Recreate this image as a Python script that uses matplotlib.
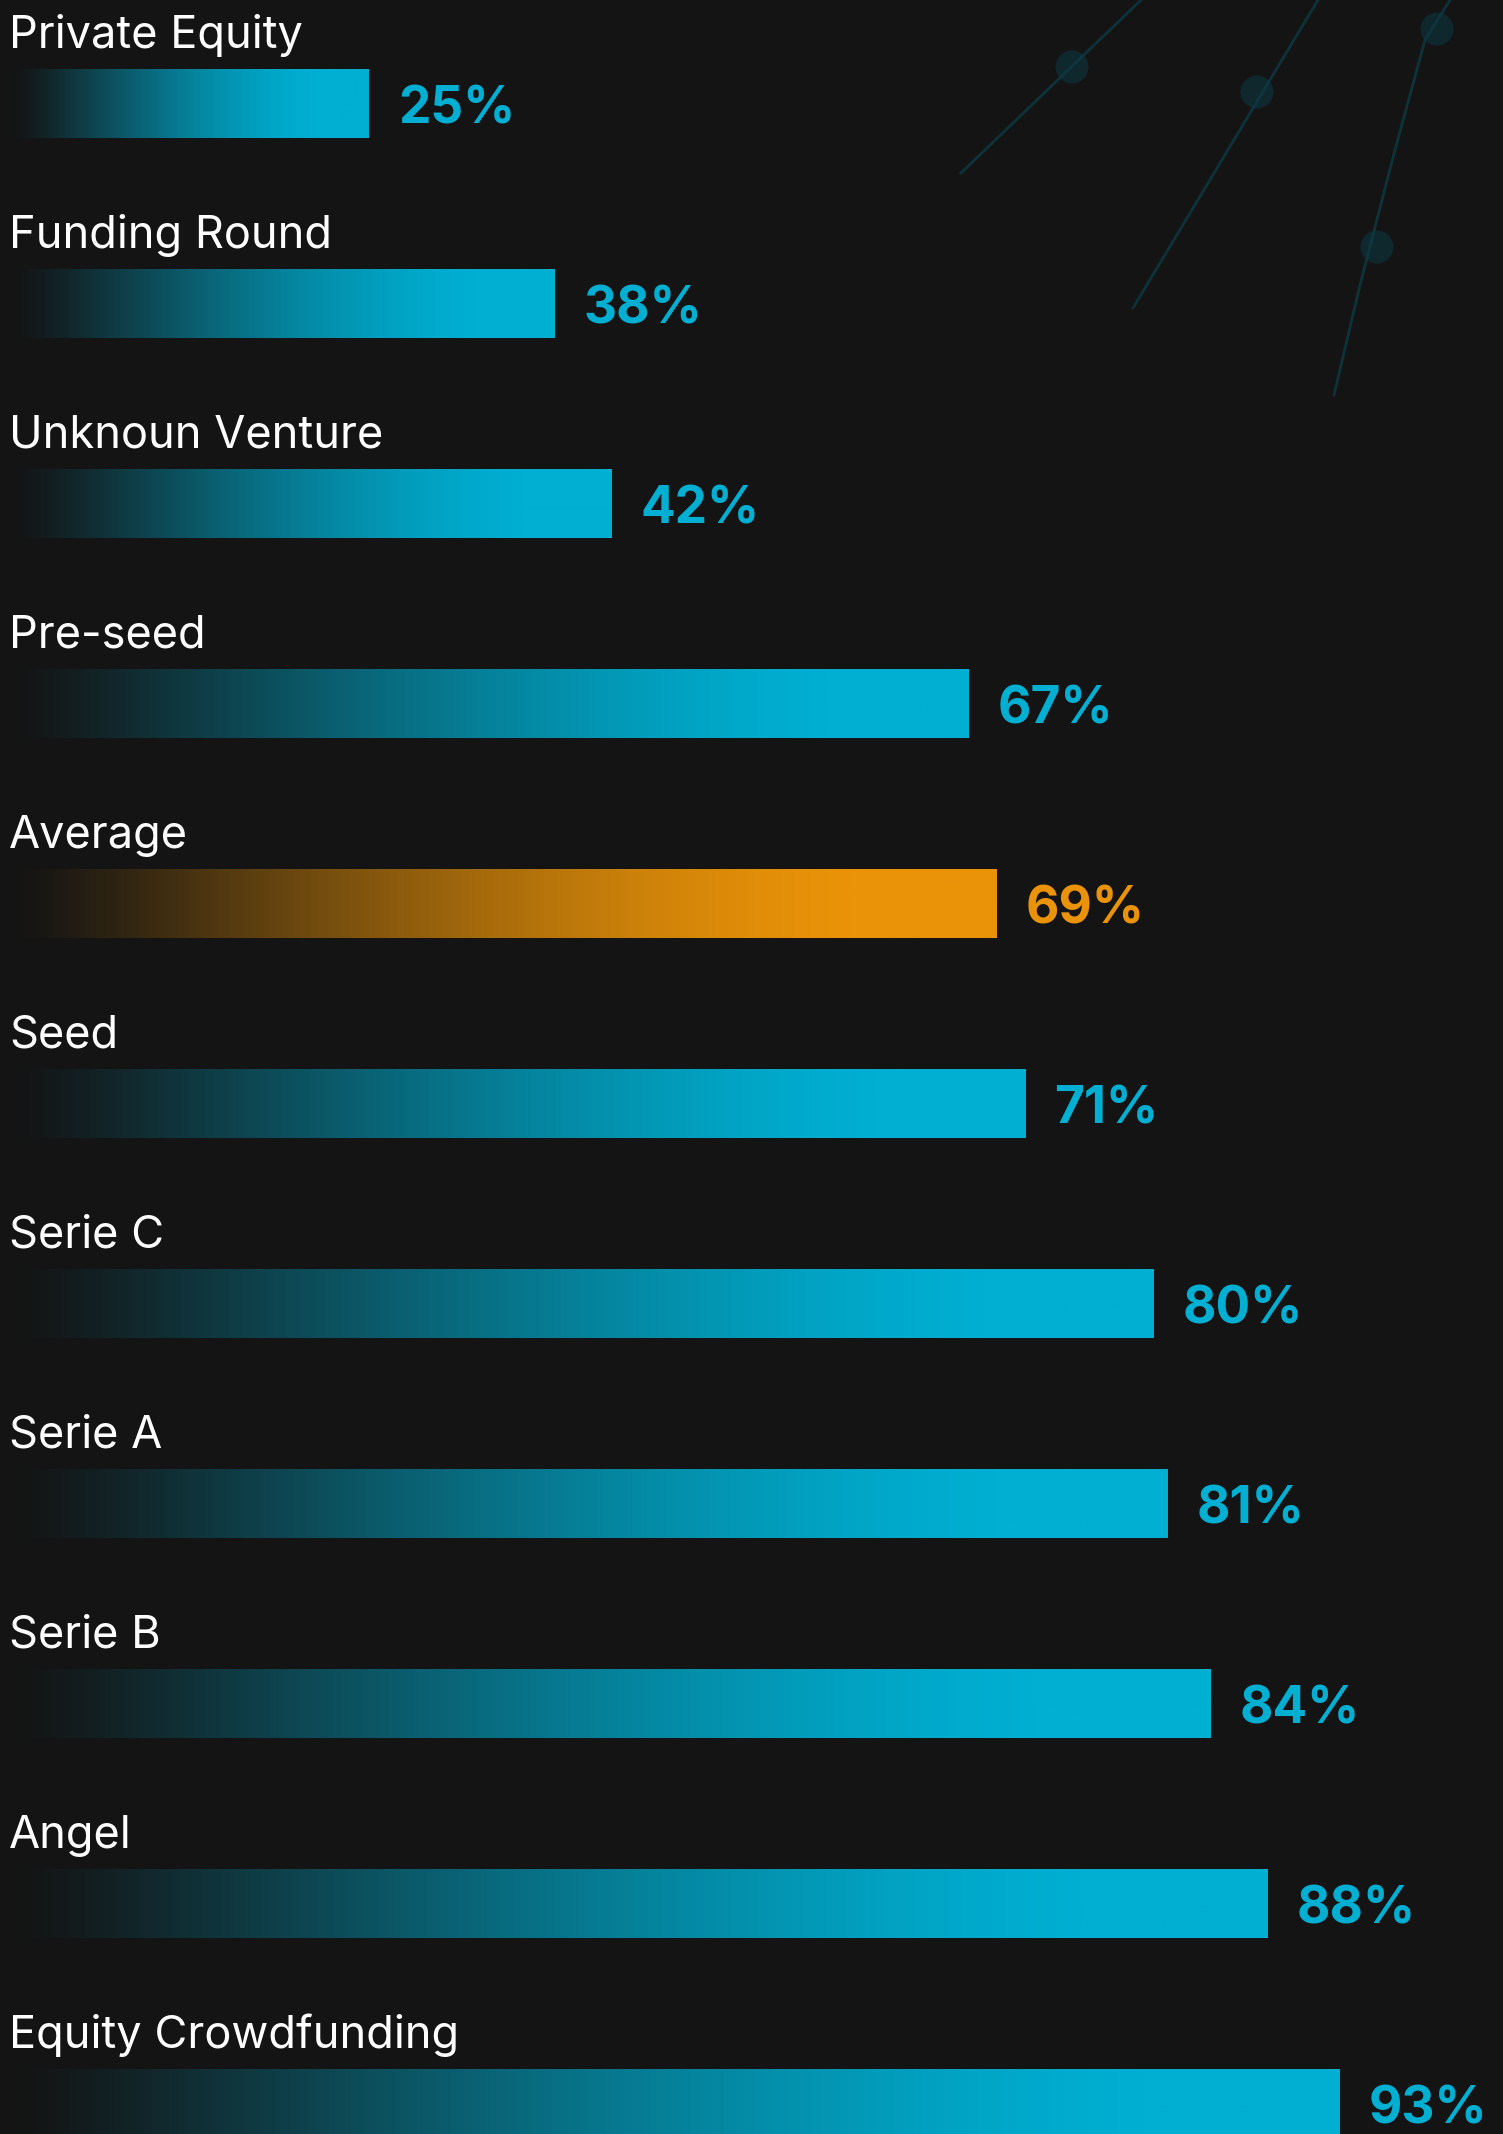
import numpy as np
import matplotlib
matplotlib.use("Agg")
import matplotlib.pyplot as plt
from matplotlib.patches import Circle

categories = ["Private Equity", "Funding Round", "Unknoun Venture", "Pre-seed", "Average",
              "Seed", "Serie C", "Serie A", "Serie B", "Angel", "Equity Crowdfunding"]
values = [25, 38, 42, 67, 69, 71, 80, 81, 84, 88, 93]
highlight = "Average"

BG = "#141414"
CYAN = "#00afd2"
ORANGE = "#ea9308"
W, H = 1503, 2134


def hex_rgb(c):
    return np.array(matplotlib.colors.to_rgb(c))


def gradient(color, n=400, flat=0.15):
    # dark -> colour, soft ending, flat colour at the end of the bar
    t = np.clip(np.linspace(0, 1, n) / (1 - flat), 0, 1)
    t = t ** 1.3 * (2 - t)
    a, b = hex_rgb(BG), hex_rgb(color)
    return (a[None, :] * (1 - t[:, None]) + b[None, :] * t[:, None])[None, :, :]


fig = plt.figure(figsize=(W / 100, H / 100), dpi=100, facecolor=BG)

# background decoration (pixel coords)
deco = fig.add_axes([0, 0, 1, 1], zorder=0)
deco.set_xlim(0, W)
deco.set_ylim(H, 0)
deco.axis("off")
deco.set_facecolor(BG)
line_col = "#0d3a44"
deco.plot([961, 1141], [173, 0], color=line_col, lw=2, alpha=0.8)
deco.plot([1133, 1318], [308, 0], color=line_col, lw=2, alpha=0.8)
deco.plot([1334, 1360, 1395, 1425, 1450], [395, 285, 150, 40, 0], color=line_col, lw=2, alpha=0.8)
for cx, cy in [(1072, 67), (1257, 92), (1437, 29), (1377, 247)]:
    deco.add_patch(Circle((cx, cy), 16.5, color="#0c3640", alpha=0.6, lw=0))

ax = fig.add_axes([0, 0, 1, 1], zorder=1)
ax.patch.set_alpha(0)
px_per_unit = 14.27
x0_px = 12
row_px = 200
y0_px = 103.5
ax.axis("off")

bar_h = 69 / row_px
for i, (cat, v) in enumerate(zip(categories, values)):
    col = ORANGE if cat == highlight else CYAN
    ax.imshow(gradient(col), extent=(0, v, i + bar_h / 2, i - bar_h / 2),
              aspect="auto", interpolation="bilinear", zorder=2)
    ax.text(-0.2, i - 0.279, cat, color="white", fontsize=32.5, family="Inter",
            va="baseline", ha="left")
    ax.annotate(f"{v}%", (v, i), xytext=(21, -4.5), textcoords="offset points",
                color=col, fontsize=37, fontweight="bold", family="Inter",
                va="center", ha="left")

ax.set_xlim(-x0_px / px_per_unit, (W - x0_px) / px_per_unit)
ax.set_ylim((H - y0_px) / row_px, -y0_px / row_px)
fig.savefig("out.png", dpi=100, facecolor=BG)
